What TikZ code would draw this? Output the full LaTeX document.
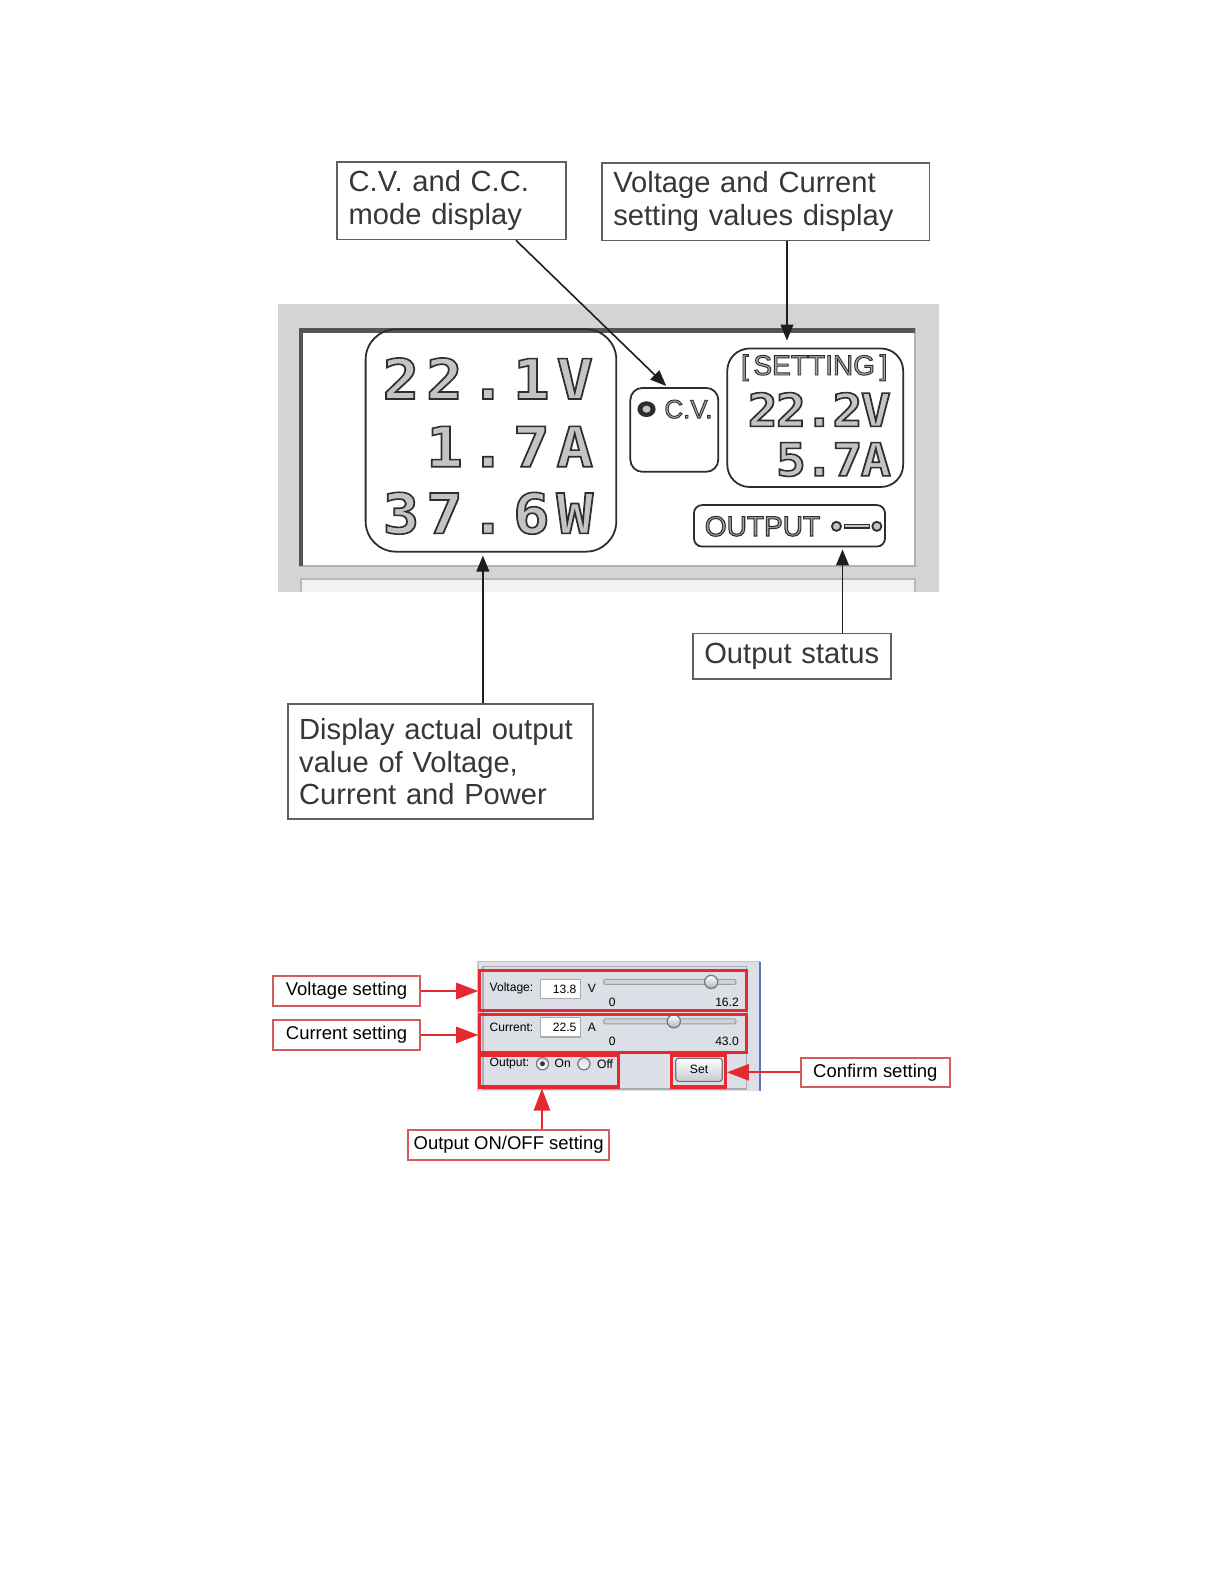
\documentclass[tikz,border=0pt]{standalone}
\usepackage{fontspec}
\setmainfont{Liberation Sans}
\newfontfamily\lcdfont{DejaVu Sans Mono}
\usetikzlibrary{arrows.meta,calc,fit}
\definecolor{labtext}{RGB}{55,55,55}
\definecolor{labline}{RGB}{95,95,95}
\definecolor{arrowblack}{RGB}{30,30,30}
\definecolor{lcdframe}{RGB}{212,212,212}
\definecolor{lcdshade}{RGB}{85,85,85}
\definecolor{lcdfill}{RGB}{196,196,196}
\definecolor{lcdline}{RGB}{45,45,45}
\definecolor{panelbg}{RGB}{220,223,229}
\definecolor{panelline}{RGB}{168,172,178}
\definecolor{knobline}{RGB}{115,120,128}
\definecolor{knobgray}{RGB}{175,180,188}
\definecolor{markred}{RGB}{228,42,48}
\definecolor{labred}{RGB}{214,92,92}
\definecolor{winblue}{RGB}{96,112,188}
\newcommand{\lcdtext}[2][0.45]{\special{pdf:literal direct 0.18 G 2 Tr #1 w}#2\special{pdf:literal direct 0 Tr}}
\newcommand{\lcddigit}[1]{\scalebox{1.1}[1]{\lcdtext{#1}}}

\begin{document}
\begin{tikzpicture}[x=0.01cm,y=-0.01cm,
    lab/.style={draw=labline,line width=0.5pt,fill=white,text=labtext,
                font=\fontsize{8.2}{9.2}\selectfont,align=left,
                inner xsep=3.2pt,inner ysep=0pt},
    redlab/.style={draw=labred,line width=0.6pt,fill=white,text=black,
                font=\fontsize{5.2}{6}\selectfont,minimum width=1.46cm,
                minimum height=0.29cm,inner sep=0pt},
    lcdbox/.style={draw=lcdline,line width=0.5pt,inner sep=0pt},
    bigdig/.style={font=\lcdfont\bfseries\fontsize{15.6}{16}\selectfont,text=lcdfill,
                anchor=base,inner sep=0pt},
    setdig/.style={font=\lcdfont\bfseries\fontsize{12.8}{13}\selectfont,text=lcdfill,
                anchor=base,inner sep=0pt},
    lcdword/.style={inner sep=0pt,text=lcdfill!85!black},
    arr/.style={-{Triangle[length=4.5pt,width=3.6pt]},line width=0.45pt,arrowblack},
    rarr/.style={-{Triangle[length=6.2pt,width=4.6pt]},line width=0.5pt,markred},
    redbox/.style={draw=markred,line width=0.9pt,inner sep=0pt},
    ptxt/.style={font=\fontsize{3.4}{4}\selectfont,inner sep=0pt,text=black},
    field/.style={ptxt,draw=panelline,fill=white,line width=0.3pt,align=right,
                text width=0.31cm,inner xsep=1.3pt,minimum height=0.19cm},
    track/.style={draw=knobline!70,fill=knobgray!60,line width=0.3pt,
                rounded corners=0.02cm,minimum width=1.31cm,minimum height=0.05cm,inner sep=0pt},
    knob/.style={circle,draw=knobline,line width=0.35pt,top color=white,
                bottom color=knobgray,minimum size=0.13cm,inner sep=0pt},
    radio/.style={circle,draw=knobline,line width=0.35pt,top color=knobgray!50,
                bottom color=white,minimum size=0.12cm,inner sep=0pt},
    setbtn/.style={ptxt,draw=knobline,line width=0.35pt,rounded corners=0.03cm,
                top color=white,bottom color=knobgray!70,minimum width=0.46cm,minimum height=0.23cm}
  ]
    \useasboundingbox (0,0) rectangle (1212,1568);

    \node[lab,text width=2.035cm,minimum height=0.77cm] (cvlab) at (447,198.5)
      {C.V. and C.C.\\mode display};
    \node[lab,text width=3.015cm,minimum height=0.77cm] (setlab) at (758,199.5)
      {Voltage and Current\\setting values display};

    \fill[lcdframe] (275,301) rectangle (930,586);
    \fill[white] (296,325) rectangle (906,560);
    \draw[gray!60,line width=0.5pt] (906,325) -- (906,560) -- (296,560);
    \draw[lcdshade,line width=1.3pt] (298,560) -- (298,327) -- (906,327);
    \fill[gray!10] (298,573) rectangle (906,586);
    \draw[gray!55,line width=0.5pt] (298,586) -- (298,573) -- (906,573) -- (906,586);

    \node[lcdbox,rounded corners=0.3cm,minimum width=2.48cm,minimum height=2.2cm] (bigbox) at (486,436) {};
    \node[lcdbox,rounded corners=0.12cm,minimum width=0.87cm,minimum height=0.83cm] (cvbox) at (667.5,425.5) {};
    \node[lcdbox,rounded corners=0.22cm,minimum width=1.74cm,minimum height=1.37cm] (setbox) at (807,413.5) {};
    \node[lcdbox,rounded corners=0.08cm,minimum width=1.89cm,minimum height=0.41cm] (outbox) at (781.5,520.5) {};

    \foreach \ch [count=\i from 0] in {2,2,.,1,V}
      \node[bigdig] (volt\i) at (397+43*\i,395) {\lcddigit{\ch}};
    \foreach \ch [count=\i from 1] in {1,.,7,A}
      \node[bigdig] (amp\i) at (397+43*\i,462) {\lcddigit{\ch}};
    \foreach \ch [count=\i from 0] in {3,7,.,6,W}
      \node[bigdig] (watt\i) at (397+43*\i,528) {\lcddigit{\ch}};

    \node[lcdword,font=\fontsize{7.9}{9}\selectfont] (settitle) at (806,364) {\lcdtext[0.25]{[\,SETTING\,]}};
    \foreach \ch [count=\i from 0] in {2,2,.,2,V}
      \node[setdig] (svolt\i) at (755+28*\i,422) {\lcddigit{\ch}};
    \foreach \ch [count=\i from 1] in {5,.,7,A}
      \node[setdig] (samp\i) at (755+28*\i,471) {\lcddigit{\ch}};

    \fill[lcdline] (640,405) ellipse (0.09cm and 0.078cm);
    \fill[lcdfill] (640,405) ellipse (0.04cm and 0.035cm);
    \node[lcdword,font=\fontsize{7.3}{8}\selectfont,anchor=west] (cvword) at (657,405) {\lcdtext[0.25]{C.V.}};

    \node[lcdword,font=\fontsize{7.9}{8.5}\selectfont,anchor=west] (outword) at (697,521) {\lcdtext[0.3]{OUTPUT}};
    \draw[lcdline,line width=1.3pt] (835,521) -- (861,521);
    \draw[lcdfill,line width=0.5pt] (836,521) -- (860,521);
    \draw[lcdline,fill=lcdfill,line width=0.5pt] (828,521) circle (0.045cm);
    \draw[lcdline,fill=lcdfill,line width=0.5pt] (868,521) circle (0.045cm);

    \node[lab,text width=1.735cm,minimum height=0.45cm] (statlab) at (784,649.5) {Output status};
    \node[lab,text width=2.795cm,minimum height=1.14cm] (actlab) at (436,754)
      {Display actual output\\value of Voltage,\\Current and Power};

    \draw[arr] ($(cvlab.south west)!0.78!(cvlab.south east)$) -- ($(cvbox.north)+(-8,-1)$);
    \draw[arr] ($(setlab.south)+(21,0)$) -- ($(setbox.north)+(-28,-7)$);
    \draw[arr] ($(actlab.north)+(42,0)$) -- ($(bigbox.south)+(-8,3)$);
    \draw[arr] ($(statlab.north)+(50,0)$) -- ($(outbox.south)+(52.5,2)$);

    \fill[panelbg] (473,952) rectangle (752,1080);
    \draw[gray!45,line width=0.4pt] (473,1080) -- (473,952) -- (752,952);
    \draw[panelline,line width=0.4pt] (478,957) rectangle (739,1078);
    \draw[winblue,line width=0.6pt] (752,952) -- (752,1080);

    \node[ptxt,anchor=west] (vname) at (484,978) {Voltage:};
    \node[field] (vfield) at (555,979) {13.8};
    \node[ptxt] (vunit) at (586,978) {V};
    \node[track] (vtrack) at (663,972) {};
    \node[knob] (vknob) at (704,972) {};
    \node[ptxt] (vmin) at (606,992) {0};
    \node[ptxt,anchor=east] (vmax) at (732,992) {16.2};

    \node[ptxt,anchor=west] (cname) at (484,1017) {Current:};
    \node[field] (cfield) at (555,1017) {22.5};
    \node[ptxt] (cunit) at (586,1017) {A};
    \node[track] (ctrack) at (663,1011) {};
    \node[knob] (cknob) at (667,1011) {};
    \node[ptxt] (cmin) at (606,1031) {0};
    \node[ptxt,anchor=east] (cmax) at (732,1031) {43.0};

    \node[ptxt,anchor=west] (oname) at (484,1053) {Output:};
    \node[radio] (onradio) at (537,1053) {};
    \fill[black!80] (onradio.center) circle (0.024cm);
    \node[ptxt] (onword) at (557,1053) {On};
    \node[radio] (offradio) at (578,1053) {};
    \node[ptxt] (offword) at (599,1053) {Off};
    \node[setbtn] (setbutton) at (692,1059) {Set};

    \node[redbox,fit={(475,961) (739,1000)}] (vbox) {};
    \node[redbox,fit={(475,1004) (739,1042)}] (cbox) {};
    \node[redbox,fit={(475,1045) (612,1076)}] (obox) {};
    \node[redbox,fit={(665,1045) (718,1076)}] (setred) {};

    \node[redlab] (vlab) at (343,981) {Voltage setting};
    \node[redlab] (clab) at (343,1024.5) {Current setting};
    \node[redlab,minimum width=1.47cm] (conlab) at (866.5,1061.5) {Confirm setting};
    \node[redlab,minimum width=1.99cm] (olab) at (503.5,1133.5) {Output ON/OFF setting};

    \coordinate (otip) at ($(obox.south west)!0.45!(obox.south east)$);
    \draw[rarr] (vlab.east) -- (vlab.east -| vbox.west);
    \draw[rarr] (clab.east) -- (clab.east -| cbox.west);
    \draw[rarr] (conlab.west) -- (conlab.west -| setred.east);
    \draw[rarr] (olab.north -| otip) -- (otip);
\end{tikzpicture}
\end{document}
